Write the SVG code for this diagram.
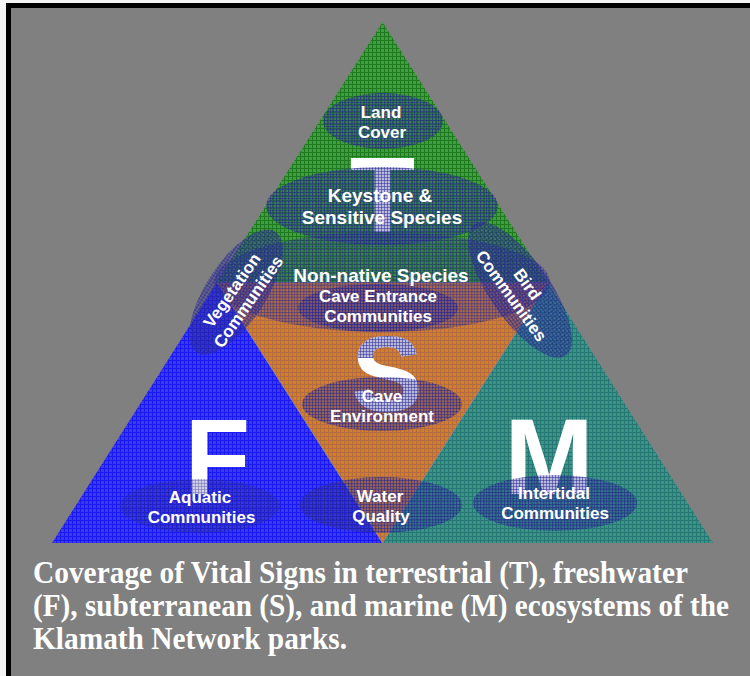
<svg xmlns="http://www.w3.org/2000/svg" width="750" height="676" viewBox="0 0 750 676">
<defs>
  <pattern id="pg" width="4" height="4" patternUnits="userSpaceOnUse">
    <rect width="4" height="4" fill="#3f9e3f"/>
    <path d="M0 0.5H4M0.5 0V4" stroke="#1f7a1f" stroke-width="1"/>
  </pattern>
  <pattern id="pb" width="4" height="4" patternUnits="userSpaceOnUse">
    <rect width="4" height="4" fill="#3a3aea"/>
    <path d="M0 0.5H4M0.5 0V4" stroke="#1818f8" stroke-width="1"/>
  </pattern>
  <pattern id="po" width="4" height="4" patternUnits="userSpaceOnUse">
    <rect width="4" height="4" fill="#d97e1e"/>
    <path d="M0 0.5H4M0.5 0V4" stroke="#b06c48" stroke-width="1"/>
  </pattern>
  <pattern id="pt" width="4" height="4" patternUnits="userSpaceOnUse">
    <rect width="4" height="4" fill="#3a9585"/>
    <path d="M0 0.5H4M0.5 0V4" stroke="#267676" stroke-width="1"/>
  </pattern>
  <pattern id="pe" width="3" height="3" patternUnits="userSpaceOnUse">
    <rect width="3" height="3" fill="#33339f" fill-opacity="0.34"/>
    <path d="M0 0.5H3M0.5 0V3" stroke="#28288e" stroke-opacity="0.5" stroke-width="1"/>
  </pattern>
  <clipPath id="sclip">
    <text x="387" y="411" font-family="Liberation Sans, Arial, sans-serif" font-weight="bold" font-size="107" text-anchor="middle">S</text>
  </clipPath>
</defs>
<style>
  .big{font-family:"Liberation Sans",Arial,sans-serif;font-weight:bold;font-size:107px;fill:#ffffff;text-anchor:middle}
  .lbl{font-family:"Liberation Sans",Arial,sans-serif;font-weight:bold;font-size:17px;fill:#ffffff;text-anchor:middle}
  .l19{font-size:19px}
  .ov{fill:url(#pe)}
  .cap{font-family:"Liberation Serif","Times New Roman",serif;font-weight:bold;font-size:30.5px;fill:#ffffff}
</style>

<rect width="750" height="676" fill="#f4f4f4"/>
<rect x="6" y="3" width="744" height="673" fill="#000000"/>
<rect x="11" y="8" width="739" height="668" fill="#808080"/>

<g id="regions">
  <g id="terrestrial">
    <polygon points="382.5,22 217,282.5 548,282.5" fill="url(#pg)"/>
    <text class="big" x="382.5" y="232">T</text>
  </g>
  <g id="freshwater">
    <polygon points="217,282.5 52,543 382.5,543" fill="url(#pb)"/>
    <text class="big" x="217.5" y="494">F</text>
  </g>
  <g id="marine">
    <polygon points="548,282.5 382.5,543 713,543" fill="url(#pt)"/>
    <text class="big" x="549" y="494">M</text>
  </g>
  <g id="subterranean">
    <polygon points="217,282.5 548,282.5 382.5,543" fill="url(#po)" stroke="#8a8a9a" stroke-width="1" stroke-opacity="0.7"/>
    <text class="big" x="387" y="411">S</text>
    <rect x="330" y="325" width="110" height="33" class="ov" clip-path="url(#sclip)"/>
  </g>
</g>

<g id="connectors"></g>

<g id="nodes">
  <g id="non-native-species">
    <ellipse class="ov" cx="382" cy="282" rx="168" ry="50" opacity="0.8"/>
    <text class="lbl l19" x="381" y="282">Non-native Species</text>
  </g>
  <g id="land-cover">
    <ellipse class="ov" cx="383" cy="121" rx="60" ry="28"/>
    <text class="lbl" x="381" y="118">Land</text>
    <text class="lbl" x="382" y="138">Cover</text>
  </g>
  <g id="keystone-sensitive-species">
    <ellipse class="ov" cx="382" cy="206" rx="116" ry="39"/>
    <text class="lbl l19" x="380" y="202">Keystone &amp;</text>
    <text class="lbl l19" x="382" y="224">Sensitive Species</text>
  </g>
  <g id="vegetation-communities">
    <ellipse class="ov" cx="236" cy="292" rx="72" ry="30" transform="rotate(-57 236 292)"/>
    <g transform="translate(240 296) rotate(-55)">
      <text class="lbl" x="0" y="-4">Vegetation</text>
      <text class="lbl" x="0" y="16">Communities</text>
    </g>
  </g>
  <g id="bird-communities">
    <ellipse class="ov" cx="520" cy="290" rx="80" ry="30" transform="rotate(55 520 290)"/>
    <g transform="translate(519.5 290) rotate(54)">
      <text class="lbl" x="0" y="-4">Bird</text>
      <text class="lbl" x="0" y="16">Communities</text>
    </g>
  </g>
  <g id="cave-entrance-communities">
    <ellipse class="ov" cx="378" cy="308" rx="80" ry="24"/>
    <text class="lbl" x="378" y="302">Cave Entrance</text>
    <text class="lbl" x="378" y="322">Communities</text>
  </g>
  <g id="cave-environment">
    <ellipse class="ov" cx="382" cy="404" rx="80" ry="27"/>
    <text class="lbl" x="382" y="402">Cave</text>
    <text class="lbl" x="382" y="422">Environment</text>
  </g>
  <g id="aquatic-communities">
    <ellipse class="ov" cx="200" cy="506" rx="80" ry="27" opacity="0.7"/>
    <text class="lbl" x="200" y="503">Aquatic</text>
    <text class="lbl" x="201.5" y="523">Communities</text>
  </g>
  <g id="water-quality">
    <ellipse class="ov" cx="381" cy="505" rx="81" ry="28"/>
    <text class="lbl" x="380" y="502">Water</text>
    <text class="lbl" x="381" y="522">Quality</text>
  </g>
  <g id="intertidal-communities">
    <ellipse class="ov" cx="555" cy="503" rx="82" ry="28"/>
    <text class="lbl" x="554" y="499">Intertidal</text>
    <text class="lbl" x="555" y="519">Communities</text>
  </g>
</g>

<g id="caption">
  <text class="cap" x="33" y="583" textLength="655" lengthAdjust="spacingAndGlyphs">Coverage of Vital Signs in terrestrial (T), freshwater</text>
  <text class="cap" x="33" y="616" textLength="696" lengthAdjust="spacingAndGlyphs">(F), subterranean (S), and marine (M) ecosystems of the</text>
  <text class="cap" x="33" y="649" textLength="314" lengthAdjust="spacingAndGlyphs">Klamath Network parks.</text>
</g>
</svg>
